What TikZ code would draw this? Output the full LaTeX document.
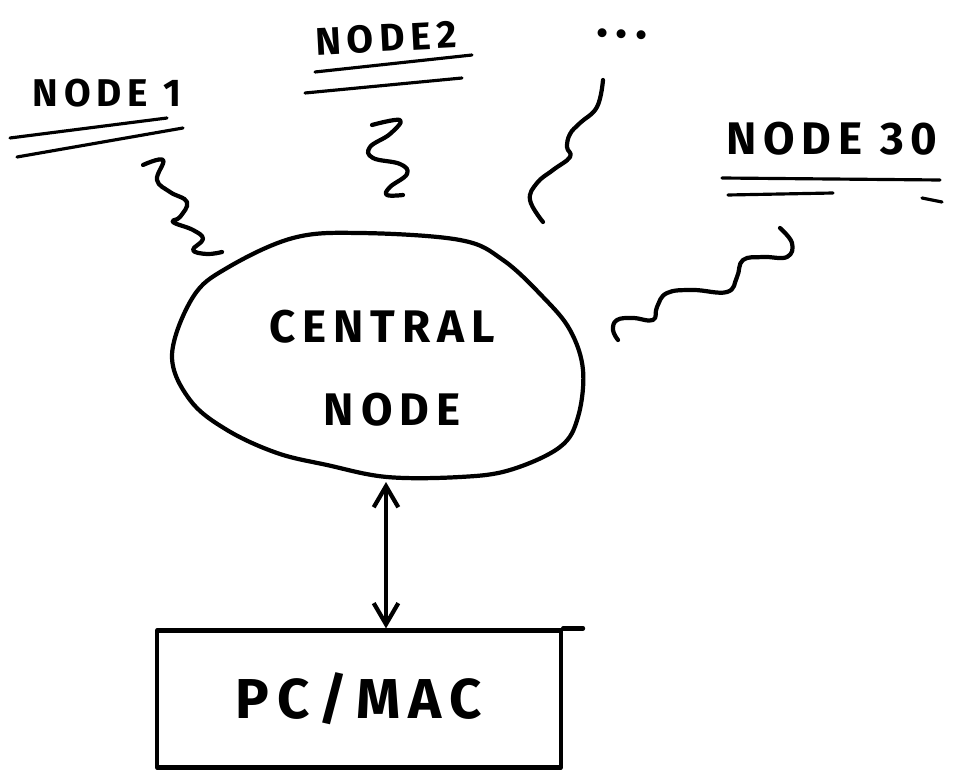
\documentclass[tikz,border=0pt]{standalone}
\usepackage{fontspec}
\usepackage{tikz}
\usetikzlibrary{arrows.meta}

\newfontfamily\sketchfont[LetterSpace=15]{Fira Sans}

\tikzset{
  sketch/.style={line width=2.4pt, line cap=round, line join=round},
  underline/.style={line width=1.8pt, line cap=round},
  lbl/.style={font=\fontsize{#1}{#1}\selectfont\sketchfont\bfseries},
  lbl/.default=22
}

\begin{document}
\begin{tikzpicture}[x=0.02cm, y=-0.02cm]
			\useasboundingbox (0,0) rectangle (954,770);
			% outer node labels
			\node[lbl=22] (node1) at (107,93) {NODE 1};
			\node[lbl=22, rotate=3] (node2) at (386,38) {NODE2};
			\node[lbl=28, rotate=-3] (dots) at (622,34) {...};
			\node[lbl=26] (node30) at (832,139) {NODE 30};
			\draw[underline] (10,138) -- (167,118);
			\draw[underline] (17,157) -- (183,128);
			\draw[underline] (315,72) -- (472,55);
			\draw[underline] (305,93) -- (462,78);
			\draw[underline] (722,178) -- (940,180);
			\draw[underline] (728,195) -- (833,193);
			\draw[underline] (922,198) -- (942,202);
			% wavy links
			\draw[sketch] plot[smooth, tension=0.7] coordinates
				{(143,165) (163,160) (157,180) (170,192) (187,202) (180,217) (173,222) (193,230) (203,239) (193,250) (207,254) (222,252)};
			\draw[sketch] plot[smooth, tension=0.7] coordinates
				{(372,125) (400,120) (390,134) (370,147) (373,158) (400,164) (407,174) (390,187) (387,195) (403,195)};
			\draw[sketch] plot[smooth, tension=0.7] coordinates
				{(603,80) (597,107) (580,123) (570,134) (567,147) (570,157) (553,170) (537,183) (530,200) (543,222)};
			\draw[sketch] plot[smooth, tension=0.7] coordinates
				{(780,228) (792,243) (787,257) (763,257) (743,260) (737,277) (727,292) (693,290) (667,293) (657,307) (653,320) (633,318) (617,320) (613,330) (618,340)};
			% central node
			\draw[sketch] plot[smooth cycle, tension=0.6] coordinates
				{(172,355) (193,297) (227,268) (293,238) (360,233) (460,240) (503,260) (543,297) (570,330) (583,370) (578,417) (560,447) (510,470) (460,477) (387,477) (327,465) (277,453) (227,430) (190,400)};
			\node[lbl=26] (central) at (382,327) {CENTRAL};
			\node[lbl=26] (centralb) at (392,410) {NODE};
			\coordinate (blobbot) at (386,482);
			% pc
			\node[sketch, draw, rectangle, minimum width=8.08cm, minimum height=2.74cm, lbl=32] (pc) at (359,699) {PC/MAC};
			\draw[sketch] (pc.north east) -- ++(20,0);
			\draw[sketch, {Straight Barb[length=12pt,width=14pt]}-{Straight Barb[length=12pt,width=14pt]}] (blobbot) -- (pc.north -| blobbot);
		\end{tikzpicture}
\end{document}
